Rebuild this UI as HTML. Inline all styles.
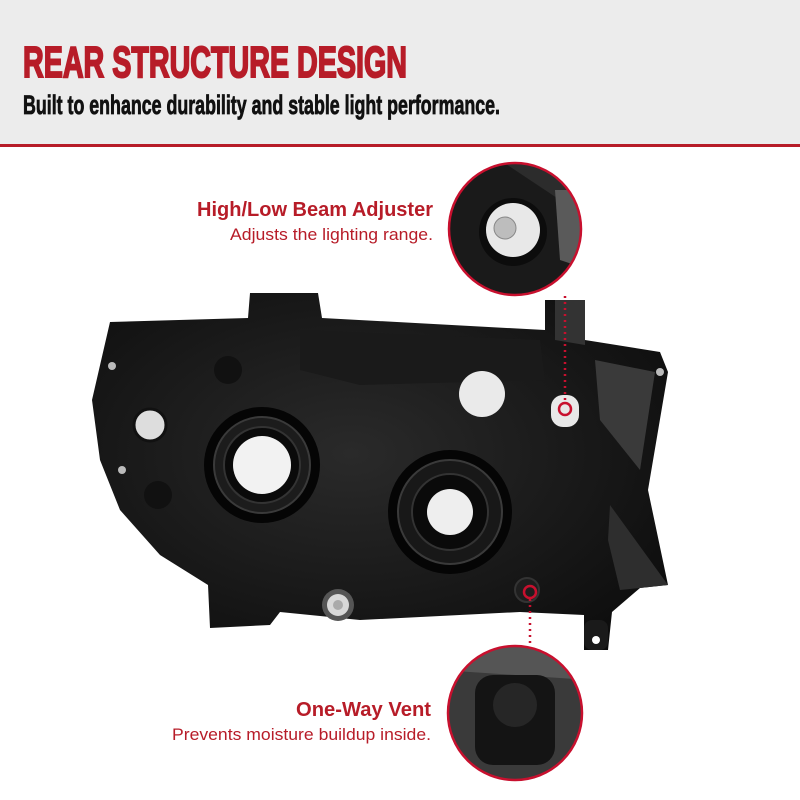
<!DOCTYPE html>
<html><head><meta charset="utf-8"><style>
html,body{margin:0;padding:0;background:#fff}
svg{display:block}
text{font-family:"Liberation Sans",sans-serif}
</style></head><body>
<svg width="800" height="800" viewBox="0 0 800 800" xmlns="http://www.w3.org/2000/svg">
<defs>
<clipPath id="c1"><circle cx="515" cy="229" r="66"/></clipPath>
<clipPath id="c2"><circle cx="515" cy="713" r="67"/></clipPath>
<radialGradient id="body" cx="0.45" cy="0.45" r="0.7"><stop offset="0" stop-color="#2a2a2a"/><stop offset="1" stop-color="#0c0c0c"/></radialGradient>
</defs>
<rect x="0" y="0" width="800" height="144" fill="#ececec"/>
<rect x="0" y="144" width="800" height="3" fill="#b71c28"/>
<text x="23" y="77" font-size="44" font-weight="bold" fill="#b71c28" stroke="#b71c28" stroke-width="2" textLength="384" lengthAdjust="spacingAndGlyphs">REAR STRUCTURE DESIGN</text>
<text x="23" y="114" font-size="27" font-weight="bold" fill="#111" stroke="#111" stroke-width="0.8" textLength="477" lengthAdjust="spacingAndGlyphs">Built to enhance durability and stable light performance.</text>

<!-- headlamp body -->
<path d="M110,322 L248,318 L250,293 L318,293 L322,318 L545,330 L545,300 L583,300 L585,340 L660,352 L668,372 L648,490 L668,585 L640,588 L612,612 L608,650 L584,650 L584,615 L520,612 L360,620 L280,612 L270,625 L210,628 L208,585 L160,555 L120,510 L100,460 L92,400 Z" fill="url(#body)"/>
<path d="M555,300 L585,300 L585,345 L555,340 Z" fill="#333"/>
<path d="M595,360 L655,372 L640,470 L600,420 Z" fill="#3a3a3a"/>
<path d="M610,505 L668,585 L620,590 L608,540 Z" fill="#2e2e2e"/>
<path d="M300,330 L540,340 L545,380 L360,385 L300,370 Z" fill="#1a1a1a"/>
<circle cx="262" cy="465" r="58" fill="#050505"/>
<circle cx="262" cy="465" r="48" fill="#1c1c1c" stroke="#3a3a3a" stroke-width="2"/>
<circle cx="262" cy="465" r="38" fill="#0a0a0a" stroke="#333" stroke-width="2"/>
<circle cx="262" cy="465" r="29" fill="#f2f2f2"/>
<circle cx="450" cy="512" r="62" fill="#050505"/>
<circle cx="450" cy="512" r="52" fill="#181818" stroke="#3a3a3a" stroke-width="2"/>
<circle cx="450" cy="512" r="38" fill="#0a0a0a" stroke="#333" stroke-width="2"/>
<circle cx="450" cy="512" r="23" fill="#eeeeee"/>
<circle cx="482" cy="394" r="23" fill="#eaeaea"/>
<rect x="551" y="395" width="28" height="32" rx="12" fill="#e8e8e8"/>
<circle cx="150" cy="425" r="16" fill="#ddd" stroke="#111" stroke-width="3"/>
<circle cx="228" cy="370" r="14" fill="#111"/>
<circle cx="158" cy="495" r="14" fill="#111"/>
<circle cx="338" cy="605" r="16" fill="#555"/>
<circle cx="338" cy="605" r="11" fill="#d8d8d8"/>
<circle cx="338" cy="605" r="5" fill="#aaa"/>
<circle cx="527" cy="590" r="12" fill="#1e1e1e" stroke="#333" stroke-width="2"/>
<rect x="584" y="620" width="24" height="30" rx="8" fill="#1a1a1a"/>
<circle cx="596" cy="640" r="4" fill="#fff"/>
<circle cx="112" cy="366" r="4" fill="#bbb"/>
<circle cx="660" cy="372" r="4" fill="#bbb"/>
<circle cx="122" cy="470" r="4" fill="#bbb"/>
<circle cx="565" cy="409" r="6" fill="none" stroke="#c8102e" stroke-width="2.5"/>
<line x1="565" y1="296" x2="565" y2="402" stroke="#c8102e" stroke-width="2.5" stroke-dasharray="2,4"/>
<circle cx="530" cy="592" r="6" fill="none" stroke="#c8102e" stroke-width="2.5"/>
<line x1="530" y1="599" x2="530" y2="646" stroke="#c8102e" stroke-width="2.5" stroke-dasharray="2,4"/>

<g clip-path="url(#c1)">
<rect x="440" y="160" width="150" height="140" fill="#1a1a1a"/>
<path d="M500,160 L590,160 L590,260 L560,250 L560,200 Z" fill="#2c2c2c"/>
<path d="M555,190 L590,190 L590,270 L560,260 Z" fill="#5a5a5a"/>
<circle cx="513" cy="232" r="34" fill="#0c0c0c"/>
<circle cx="513" cy="230" r="27" fill="#e8e8e8"/>
<circle cx="505" cy="228" r="11" fill="#bdbdbd" stroke="#888" stroke-width="1"/>
</g>
<circle cx="515" cy="229" r="66" fill="none" stroke="#c8102e" stroke-width="2.5"/>

<g clip-path="url(#c2)">
<rect x="440" y="640" width="150" height="150" fill="#3a3a3a"/>
<path d="M440,640 L590,640 L590,680 L440,670 Z" fill="#555"/>
<rect x="475" y="675" width="80" height="90" rx="18" fill="#141414"/>
<circle cx="515" cy="705" r="22" fill="#262626"/>
</g>
<circle cx="515" cy="713" r="67" fill="none" stroke="#c8102e" stroke-width="2.5"/>

<text x="433" y="216" font-size="20" font-weight="bold" fill="#b71c28" text-anchor="end" textLength="236" lengthAdjust="spacingAndGlyphs">High/Low Beam Adjuster</text>
<text x="433" y="240" font-size="17" fill="#b71c28" text-anchor="end" textLength="203" lengthAdjust="spacingAndGlyphs">Adjusts the lighting range.</text>
<text x="431" y="716" font-size="20" font-weight="bold" fill="#b71c28" text-anchor="end" textLength="135" lengthAdjust="spacingAndGlyphs">One-Way Vent</text>
<text x="431" y="740" font-size="17" fill="#b71c28" text-anchor="end" textLength="259" lengthAdjust="spacingAndGlyphs">Prevents moisture buildup inside.</text>
</svg>
</body></html>
